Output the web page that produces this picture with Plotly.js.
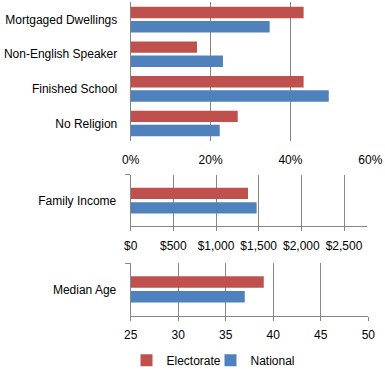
<!DOCTYPE html>
<html>
<head>
<meta charset="utf-8">
<script src="https://cdn.plot.ly/plotly-3.0.1.min.js"></script>
<style>html,body{margin:0;padding:0;background:#fff;}#chart{width:385px;height:375px;}</style>
</head>
<body>
<div id="chart"></div>
<script>
// ---- data ----
const seriesNames = ['Electorate', 'National'];
const pctCategories = ['Mortgaged Dwellings', 'Non-English Speaker', 'Finished School', 'No Religion'];
const pctElectorate = [43.3, 16.6, 43.3, 26.8];
const pctNational = [34.8, 23.1, 49.6, 22.3];
const incomeCategories = ['Family Income'];
const incomeElectorate = [1375];
const incomeNational = [1476];
const ageCategories = ['Median Age'];
const ageElectorate = [39];
const ageNational = [37];

// ---- styles ----
const RED = '#C0504D', BLUE = '#4F81BD', GRID = '#868686';
const W = 385, H = 375;
const FONT = {family: 'Arial, "Liberation Sans", sans-serif', size: 12, color: '#000000'};

function bars(cats, vals, name, color, xa, ya, offset, width, showlegend) {
  return {type: 'bar', orientation: 'h', y: cats, x: vals, name: name,
    marker: {color: color, line: {width: 0}}, xaxis: xa, yaxis: ya,
    offset: offset, width: width, showlegend: showlegend, hoverinfo: 'skip'};
}

const data = [
  bars(pctCategories, pctElectorate, seriesNames[0], RED, 'x', 'y', -0.37, 0.33, true),
  bars(pctCategories, pctNational, seriesNames[1], BLUE, 'x', 'y', 0.04, 0.33, true),
  bars(incomeCategories, incomeElectorate, seriesNames[0], RED, 'x2', 'y2', -0.25, 0.22, false),
  bars(incomeCategories, incomeNational, seriesNames[1], BLUE, 'x2', 'y2', 0.03, 0.22, false),
  bars(ageCategories, ageElectorate, seriesNames[0], RED, 'x3', 'y3', -0.25, 0.22, false),
  bars(ageCategories, ageNational, seriesNames[1], BLUE, 'x3', 'y3', 0.03, 0.22, false)
];

const xcommon = {showgrid: true, gridcolor: GRID, gridwidth: 1, automargin: false,
  ticks: '', tickfont: FONT, fixedrange: true};
const ycommon = {type: 'category', showgrid: false, zeroline: false, automargin: false,
  tickfont: FONT, fixedrange: true};

const layout = {
  width: W, height: H,
  margin: {l: 0, r: 0, t: 0, b: 0},
  paper_bgcolor: '#ffffff', plot_bgcolor: '#ffffff',
  font: FONT,
  barmode: 'overlay',
  separators: '.,',
  showlegend: true,
  legend: {orientation: 'h', x: 126.5 / W, xanchor: 'left', y: 10 / H, yanchor: 'middle',
    font: FONT, traceorder: 'normal', entrywidth: 39, itemwidth: 30},
  xaxis: Object.assign({}, xcommon, {domain: [130.7 / W, 370.3 / W], anchor: 'y',
    range: [0, 60], dtick: 20, tick0: 0, ticksuffix: '%', zeroline: true,
    zerolinecolor: GRID, zerolinewidth: 1, showline: false,
    ticks: 'outside', ticklen: 8, tickcolor: 'rgba(0,0,0,0)'}),
  yaxis: Object.assign({}, ycommon, {domain: [1 - 142.7 / H, 1 - 2.3 / H], anchor: 'x',
    range: [3.5, -0.5], showline: false, ticks: 'outside', ticklen: 10, tickcolor: 'rgba(0,0,0,0)'}),
  xaxis2: Object.assign({}, xcommon, {domain: [130.7 / W, 366.7 / W], anchor: 'y2',
    range: [0, 2766], dtick: 500, tick0: 0, tickprefix: '$', tickformat: ',.0f',
    zeroline: false, showline: true, linecolor: GRID, linewidth: 1,
    ticks: 'outside', ticklen: 4, tickcolor: GRID, ticklabelstandoff: 4}),
  yaxis2: Object.assign({}, ycommon, {domain: [1 - 229.3 / H, 1 - 177.3 / H], anchor: 'x2',
    range: [0.5, -0.5], showline: true, linecolor: GRID, linewidth: 1,
    ticks: 'outside', ticklen: 5, tickcolor: GRID, tickson: 'boundaries', ticklabelstandoff: 11}),
  xaxis3: Object.assign({}, xcommon, {domain: [130.7 / W, 368.3 / W], anchor: 'y3',
    range: [25, 50], dtick: 5, tick0: 25,
    zeroline: false, showline: true, linecolor: GRID, linewidth: 1,
    ticks: 'outside', ticklen: 4, tickcolor: GRID, ticklabelstandoff: 4}),
  yaxis3: Object.assign({}, ycommon, {domain: [1 - 320 / H, 1 - 266.7 / H], anchor: 'x3',
    range: [0.5, -0.5], showline: true, linecolor: GRID, linewidth: 1,
    ticks: 'outside', ticklen: 5, tickcolor: GRID, tickson: 'boundaries', ticklabelstandoff: 11})
};

Plotly.newPlot('chart', data, layout, {displayModeBar: false, staticPlot: true});
</script>
</body>
</html>
